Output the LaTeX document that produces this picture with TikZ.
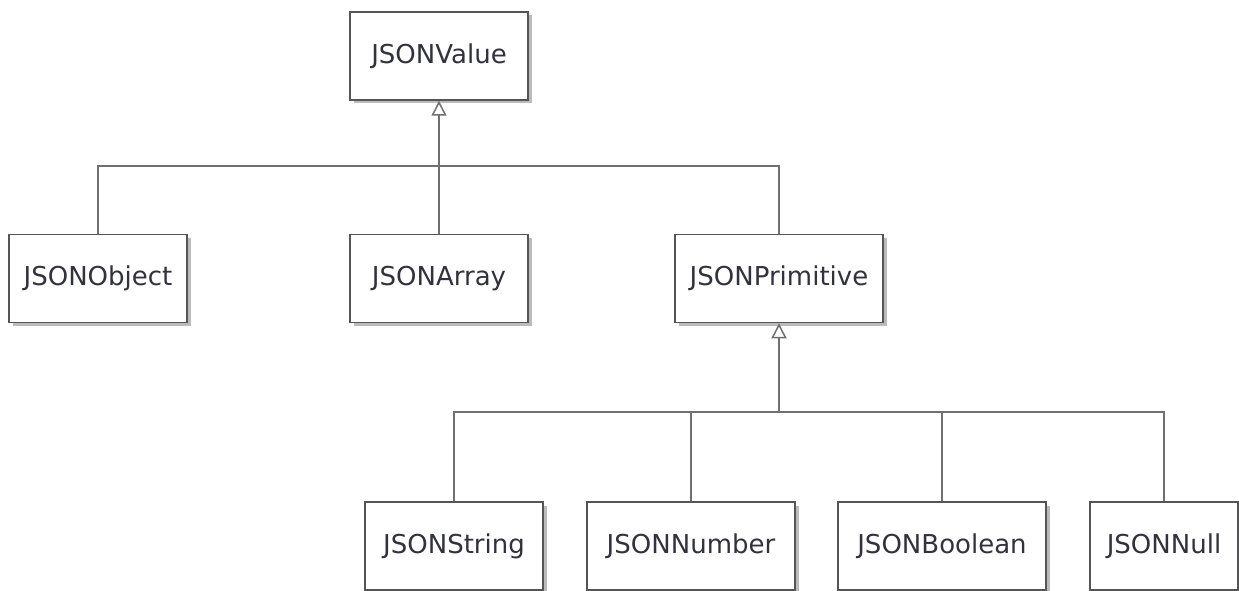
\documentclass[tikz,border=0pt]{standalone}
\usepackage{fontspec}
\setmainfont{DejaVu Sans}
\usetikzlibrary{arrows.meta,shadows}
\definecolor{boxline}{RGB}{85,85,85}
\definecolor{wire}{RGB}{112,112,112}
\definecolor{label}{RGB}{50,50,62}
\definecolor{shade}{RGB}{170,170,170}
\tikzset{
  cls/.style={draw=boxline, line width=1.5pt, fill=white, minimum height=88pt,
    text=label, font=\fontsize{26}{30}\selectfont, inner sep=0pt,
    drop shadow={shadow xshift=3.5pt, shadow yshift=-3.5pt, fill=shade, opacity=0.8}},
  wireline/.style={draw=wire, line width=1.6pt},
  inherit/.style={wireline, -{Triangle[open, length=15pt, width=15pt, line width=1.5pt]}}
}
\begin{document}
\begin{tikzpicture}[x=1pt, y=-1pt]
  \useasboundingbox (0,0) rectangle (1239,591);
  \clip (0,0) rectangle (1239,591);

  % class boxes
  \node[cls, minimum width=178pt] (value) at (439,56) {JSONValue};
  \node[cls, minimum width=178pt] (object) at (98,278.5) {JSONObject};
  \node[cls, minimum width=178pt] (array) at (439,278.5) {JSONArray};
  \node[cls, minimum width=208pt] (primitive) at (779,278.5) {JSONPrimitive};
  \node[cls, minimum width=178pt] (string) at (454,546) {JSONString};
  \node[cls, minimum width=208pt] (number) at (691,546) {JSONNumber};
  \node[cls, minimum width=208pt] (boolean) at (942,546) {JSONBoolean};
  \node[cls, minimum width=148pt] (null) at (1164,546) {JSONNull};

  % junction points of the generalisation trees
  \coordinate (top) at (439,166);
  \coordinate (low) at (779,412);

  % JSONValue subclasses
  \draw[wireline] (object.north) |- (top);
  \draw[wireline] (top) -| (primitive.north);
  \draw[wireline] (array.north) -- (top);
  \draw[inherit] (top) -- (value.south);

  % JSONPrimitive subclasses
  \draw[wireline] (string.north) |- (low);
  \draw[wireline] (low) -| (null.north);
  \draw[wireline] (number.north) |- (low);
  \draw[wireline] (boolean.north) |- (low);
  \draw[inherit] (low) -- (primitive.south);
\end{tikzpicture}
\end{document}
